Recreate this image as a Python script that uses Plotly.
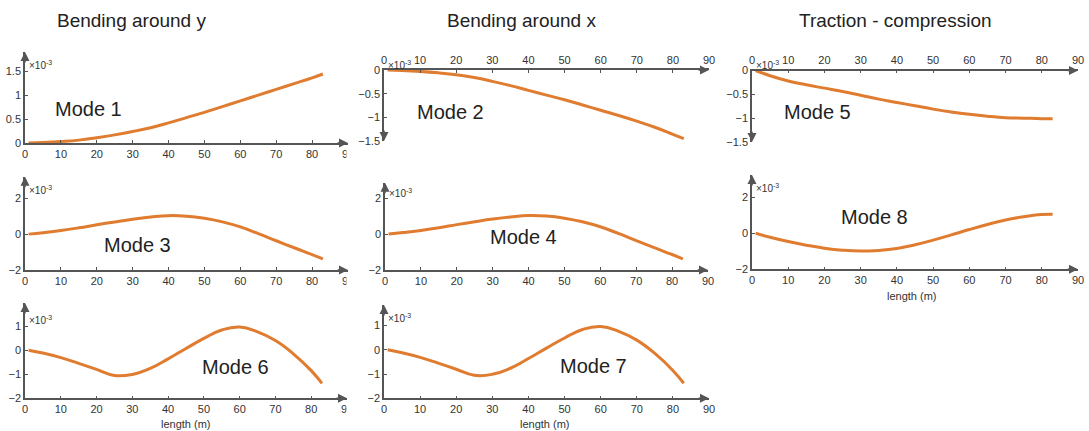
import plotly.graph_objects as go

# ---------------- data (displacement in units of 1e-3) ----------------
length_m = [1, 5, 10, 15, 20, 25, 30, 35, 40, 45, 50, 55, 60, 65, 70, 75, 80, 83]

mode1 = [0, 0.01, 0.03, 0.06, 0.11, 0.17, 0.24, 0.32, 0.42, 0.53, 0.64, 0.76, 0.88, 1.00, 1.12, 1.24, 1.36, 1.44]
mode2 = [0, -0.01, -0.03, -0.06, -0.10, -0.16, -0.24, -0.33, -0.43, -0.53, -0.63, -0.74, -0.85, -0.96, -1.08, -1.21, -1.36, -1.45]
mode5 = [0, -0.11, -0.22, -0.30, -0.37, -0.44, -0.52, -0.60, -0.67, -0.74, -0.81, -0.87, -0.92, -0.96, -0.99, -1.00, -1.01, -1.01]
mode3 = [0, 0.08, 0.20, 0.35, 0.52, 0.68, 0.83, 0.95, 1.03, 1.00, 0.88, 0.68, 0.40, 0.03, -0.37, -0.76, -1.14, -1.38]
mode4 = [0, 0.08, 0.20, 0.35, 0.52, 0.68, 0.83, 0.95, 1.03, 1.00, 0.88, 0.68, 0.40, 0.03, -0.37, -0.76, -1.14, -1.38]
mode8 = [0, -0.22, -0.46, -0.66, -0.83, -0.94, -0.99, -0.95, -0.84, -0.64, -0.38, -0.09, 0.21, 0.49, 0.74, 0.92, 1.04, 1.06]
mode6 = [0, -0.12, -0.31, -0.55, -0.80, -1.05, -1.01, -0.76, -0.36, 0.07, 0.49, 0.84, 0.96, 0.76, 0.40, -0.15, -0.85, -1.38]
mode7 = [0, -0.12, -0.31, -0.55, -0.80, -1.05, -1.01, -0.76, -0.36, 0.07, 0.49, 0.84, 0.96, 0.76, 0.40, -0.15, -0.85, -1.38]

col_titles = ["Bending around y", "Bending around x", "Traction - compression"]
x_ticks = [0, 10, 20, 30, 40, 50, 60, 70, 80, 90]

# ---------------- layout helpers ----------------
W, H = 1089, 431
def px_x(p): return p / W
def px_y(p): return 1 - p / H

LINE = "#E07C30"
AX = "#555555"
TXT = "#333333"
FONT = "Liberation Sans, Arial, sans-serif"

# name, data, x-px domain, y-px domain (top,bottom), yrange, ytickvals, xside, label pos, exp pos, xlabel pos
panels = [
    ("Mode 1", mode1, (25, 348), (52, 143), [0, 1.9], [0, 0.5, 1, 1.5], "bottom", (88, 109), (27, 65), None),
    ("Mode 2", mode2, (384, 709), (70, 141), [-1.5, 0], [-1.5, -1, -0.5, 0], "top", (450, 112), (386, 65), None),
    ("Mode 5", mode5, (752, 1078), (70.5, 142), [-1.5, 0], [-1.5, -1, -0.5, 0], "top", (817, 112), (754, 65), None),
    ("Mode 3", mode3, (25, 348), (176.7, 270), [-2, 3.2], [-2, 0, 2], "bottom", (137, 245), (27, 190), None),
    ("Mode 4", mode4, (385, 708), (182.7, 270), [-2, 2.85], [-2, 0, 2], "bottom", (523, 237), (387, 193), None),
    ("Mode 8", mode8, (752, 1078), (175, 269.3), [-2, 3.24], [-2, 0, 2], "bottom", (874, 217), (754, 188), (912, 296)),
    ("Mode 6", mode6, (25, 347), (303, 398.3), [-2, 1.96], [-2, -1, 0, 1], "bottom", (235, 367), (27, 320), (186, 424)),
    ("Mode 7", mode7, (384, 709), (305, 398.3), [-2, 1.85], [-2, -1, 0, 1], "bottom", (593, 366), (386, 318), (545, 424)),
]

fig = go.Figure()
annotations = []
shapes = []

for i, (name, vals, xd, yd, yr, ytv, xside, lab, exp, xlab) in enumerate(panels):
    n = "" if i == 0 else str(i + 1)
    xa, ya = "x" + n, "y" + n
    fig.add_trace(go.Scatter(
        x=length_m, y=vals, xaxis=xa, yaxis=ya, mode="lines",
        line=dict(color=LINE, width=3, shape="spline", smoothing=1.3),
        showlegend=False, hoverinfo="skip"))
    axcommon = dict(showline=True, linecolor=AX, linewidth=1.5, showgrid=False,
                    zeroline=False, ticks="inside", ticklen=3, tickcolor=AX,
                    automargin=False,
                    tickfont=dict(size=11, color=TXT, family=FONT))
    fig.layout["xaxis" + n] = dict(
        domain=[px_x(xd[0]), px_x(xd[1])], range=[0, 90], anchor=ya, side=xside,
        tickvals=x_ticks, **axcommon)
    fig.layout["yaxis" + n] = dict(
        domain=[px_y(yd[1]), px_y(yd[0])], range=yr, anchor=xa,
        tickvals=ytv, **axcommon)
    # axis arrowheads
    annotations.append(dict(xref=xa + " domain", yref=ya + " domain", x=1, y=(1 if xside == "top" else 0),
                            ax=-12, ay=0, text="", showarrow=True, arrowhead=2,
                            arrowsize=1.2, arrowwidth=1.5, arrowcolor=AX))
    if xside == "top":
        annotations.append(dict(xref=xa + " domain", yref=ya + " domain", x=0, y=0,
                                ax=0, ay=-12, text="", showarrow=True, arrowhead=2,
                                arrowsize=1.2, arrowwidth=1.5, arrowcolor=AX))
    else:
        annotations.append(dict(xref=xa + " domain", yref=ya + " domain", x=0, y=1,
                                ax=0, ay=12, text="", showarrow=True, arrowhead=2,
                                arrowsize=1.2, arrowwidth=1.5, arrowcolor=AX))
    # mode label
    annotations.append(dict(xref="paper", yref="paper", x=px_x(lab[0]), y=px_y(lab[1]),
                            text=name, showarrow=False, xanchor="center", yanchor="middle",
                            font=dict(size=20, color="#222222", family=FONT)))
    # exponent label
    annotations.append(dict(xref="paper", yref="paper", x=px_x(exp[0]), y=px_y(exp[1]),
                            text="×10<sup>-3</sup>", showarrow=False, xanchor="left", yanchor="middle",
                            font=dict(size=10, color=TXT, family=FONT)))
    if xlab is not None:
        annotations.append(dict(xref="paper", yref="paper", x=px_x(xlab[0]), y=px_y(xlab[1]),
                                text="length (m)", showarrow=False, xanchor="center", yanchor="middle",
                                font=dict(size=11, color=TXT, family=FONT)))

# column titles
for t, cx in zip(col_titles, [131, 521, 895]):
    annotations.append(dict(xref="paper", yref="paper", x=px_x(cx), y=px_y(20),
                            text=t, showarrow=False, xanchor="center", yanchor="middle",
                            font=dict(size=19, color="#222222", family=FONT)))

# page number fragment at bottom-right edge
annotations.append(dict(xref="paper", yref="paper", x=px_x(1080), y=px_y(427),
                        text="25", showarrow=False, xanchor="center", yanchor="top",
                        font=dict(size=14, color="#222222", family=FONT)))

# crop edge of the left column (hides the clipped part of its last tick label)
for (t0, t1) in [(146, 160), (273, 287), (401, 415)]:
    shapes.append(dict(type="rect", xref="paper", yref="paper", x0=px_x(346.5), x1=px_x(358),
                       y0=px_y(t1), y1=px_y(t0), fillcolor="white", line=dict(width=0), layer="above"))

fig.update_layout(width=W, height=H, margin=dict(l=0, r=0, t=0, b=0),
                  plot_bgcolor="white", paper_bgcolor="white",
                  annotations=annotations, shapes=shapes,
                  font=dict(family=FONT))

fig.write_html("out.html", config={"displayModeBar": False},
               post_script="document.body.style.margin='0';document.body.style.overflow='hidden';")
